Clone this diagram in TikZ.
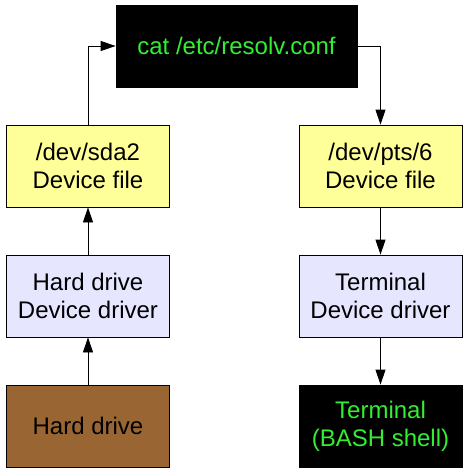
\documentclass[tikz,border=0pt]{standalone}
\usepackage{fontspec}
\setmainfont{Liberation Sans}
\usetikzlibrary{arrows.meta}
\definecolor{fileyellow}{HTML}{FFFF99}
\definecolor{drvlav}{HTML}{E6E6FF}
\definecolor{hdbrown}{HTML}{996633}
\definecolor{termgreen}{HTML}{33EE33}
\tikzset{
  box/.style={draw=black, line width=0.8pt, minimum width=163pt, minimum height=82pt, inner sep=0pt, align=center, font=\fontsize{24}{28}\selectfont},
  filebox/.style={box, fill=fileyellow},
  drvbox/.style={box, fill=drvlav},
  hdbox/.style={box, fill=hdbrown},
  termbox/.style={box, fill=black, text=termgreen},
  conn/.style={draw=black, line width=0.8pt, -{Triangle[length=15pt,width=10pt]}}
}
\begin{document}
\begin{tikzpicture}[x=1pt,y=-1pt]
\useasboundingbox (0,0) rectangle (468,472);
\node[termbox, minimum width=241pt] (cat) at (236.5,46) {cat /etc/resolv.conf};
\node[filebox] (sda) at (88,166) {/dev/sda2\\Device file};
\node[drvbox] (hdd) at (88,296) {Hard drive\\Device driver};
\node[hdbox] (hd) at (88,426) {Hard drive};
\node[filebox] (pts) at (380.5,166) {/dev/pts/6\\Device file};
\node[drvbox] (tdd) at (380.5,296) {Terminal\\Device driver};
\node[termbox] (term) at (380.5,426) {Terminal\\(BASH shell)};
\draw[conn] (hd.north) -- (hdd.south);
\draw[conn] (hdd.north) -- (sda.south);
\draw[conn] (sda.north) |- (cat.west);
\draw[conn] (cat.east) -| (pts.north);
\draw[conn] (pts.south) -- (tdd.north);
\draw[conn] (tdd.south) -- (term.north);
\end{tikzpicture}
\end{document}
